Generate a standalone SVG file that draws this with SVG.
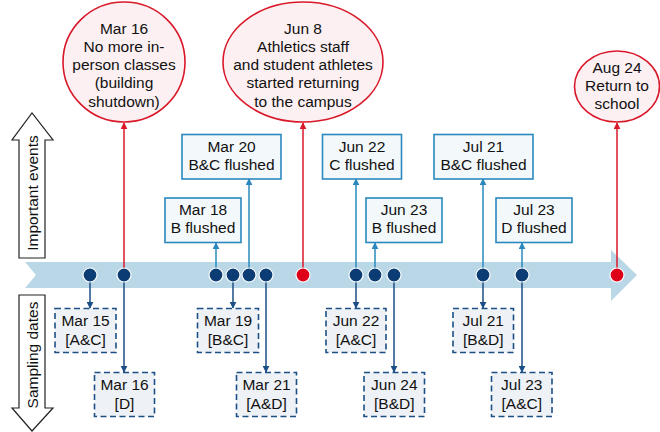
<svg xmlns="http://www.w3.org/2000/svg" width="660" height="432" viewBox="0 0 660 432">
<defs>
<style>
text{font-family:"Liberation Sans",Arial,sans-serif;font-size:15.5px;fill:#111;text-anchor:middle}
.ev{fill:#fcf0f2;stroke:#d9182a;stroke-width:1.6}
.fl{fill:#f3f8fb;stroke:#2a88be;stroke-width:1.6}
.sm{fill:#eef2f6;stroke:#1c4f86;stroke-width:1.6;stroke-dasharray:6 3.5}
.red{stroke:#d9182a;stroke-width:1.5;fill:none}
.up{stroke:#2a88be;stroke-width:1.5;fill:none}
.dn{stroke:#1c4f86;stroke-width:1.5;fill:none}
.dot{fill:#0b3d74;stroke:#fff;stroke-width:1.2}
.rdot{fill:#dd0018;stroke:#fff;stroke-width:1.2}
.side{fill:#fff;stroke:#222;stroke-width:1.2}
</style>
<marker id="mr" viewBox="0 0 10 10" refX="9" refY="5" markerWidth="7" markerHeight="7" markerUnits="userSpaceOnUse" orient="auto"><path d="M0,0L10,5L0,10z" fill="#d9182a"/></marker>
<marker id="mu" viewBox="0 0 10 10" refX="9" refY="5" markerWidth="7" markerHeight="7" markerUnits="userSpaceOnUse" orient="auto"><path d="M0,0L10,5L0,10z" fill="#2a88be"/></marker>
<marker id="md" viewBox="0 0 10 10" refX="9" refY="5" markerWidth="7" markerHeight="7" markerUnits="userSpaceOnUse" orient="auto"><path d="M0,0L10,5L0,10z" fill="#1c4f86"/></marker>
</defs>
<rect width="660" height="432" fill="#fff"/>

<g id="timeline">
<path d="M25,262 L611,262 L611,250 L637,275 L611,301 L611,288 L25,288 L36,275 Z" fill="#bad7e7"/>
</g>

<g id="axis-important">
<path class="side" d="M19,258 L19,140 L12,140 L32,113 L53,140 L45,140 L45,258 Z"/>
<text transform="translate(37.5,193) rotate(-90)">Important events</text>
</g>
<g id="axis-sampling">
<path class="side" d="M19,295 L45,295 L45,408 L53,408 L32,431 L12,408 L19,408 Z"/>
<text transform="translate(37.5,355) rotate(-90)">Sampling dates</text>
</g>

<g id="connectors">
<line class="red" x1="124" y1="275" x2="124" y2="123" marker-end="url(#mr)"/>
<line class="red" x1="303" y1="275" x2="303" y2="123" marker-end="url(#mr)"/>
<line class="red" x1="617" y1="275" x2="617" y2="123" marker-end="url(#mr)"/>
<line class="up" x1="216" y1="275" x2="216" y2="243" marker-end="url(#mu)"/>
<line class="up" x1="249" y1="275" x2="249" y2="179" marker-end="url(#mu)"/>
<line class="up" x1="356" y1="275" x2="356" y2="179" marker-end="url(#mu)"/>
<line class="up" x1="375" y1="275" x2="375" y2="243" marker-end="url(#mu)"/>
<line class="up" x1="483" y1="275" x2="483" y2="179" marker-end="url(#mu)"/>
<line class="up" x1="522" y1="275" x2="522" y2="243" marker-end="url(#mu)"/>
<line class="dn" x1="90" y1="275" x2="90" y2="308" marker-end="url(#md)"/>
<line class="dn" x1="124" y1="275" x2="124" y2="372" marker-end="url(#md)"/>
<line class="dn" x1="233" y1="275" x2="233" y2="308" marker-end="url(#md)"/>
<line class="dn" x1="266" y1="275" x2="266" y2="372" marker-end="url(#md)"/>
<line class="dn" x1="356" y1="275" x2="356" y2="308" marker-end="url(#md)"/>
<line class="dn" x1="394" y1="275" x2="394" y2="372" marker-end="url(#md)"/>
<line class="dn" x1="483" y1="275" x2="483" y2="308" marker-end="url(#md)"/>
<line class="dn" x1="522" y1="275" x2="522" y2="372" marker-end="url(#md)"/>
</g>

<g id="dots">
<circle class="dot" cx="90" cy="275" r="7"/>
<circle class="dot" cx="124" cy="275" r="7"/>
<circle class="dot" cx="216" cy="275" r="7"/>
<circle class="dot" cx="233" cy="275" r="7"/>
<circle class="dot" cx="249" cy="275" r="7"/>
<circle class="dot" cx="266" cy="275" r="7"/>
<circle class="rdot" cx="303" cy="275" r="7"/>
<circle class="dot" cx="356" cy="275" r="7"/>
<circle class="dot" cx="375" cy="275" r="7"/>
<circle class="dot" cx="394" cy="275" r="7"/>
<circle class="dot" cx="483" cy="275" r="7"/>
<circle class="dot" cx="522" cy="275" r="7"/>
<circle class="rdot" cx="617" cy="275" r="7"/>
</g>

<g id="ev-mar16">
<ellipse class="ev" cx="124" cy="62" rx="61" ry="60"/>
<text x="124" y="33.5">Mar 16</text>
<text x="124" y="51.8">No more in-</text>
<text x="124" y="70.1">person classes</text>
<text x="124" y="88.4">(building</text>
<text x="124" y="106.7">shutdown)</text>
</g>
<g id="ev-jun8">
<ellipse class="ev" cx="303" cy="62" rx="80" ry="60"/>
<text x="303" y="33.5">Jun 8</text>
<text x="303" y="51.8">Athletics staff</text>
<text x="303" y="70.1">and student athletes</text>
<text x="303" y="88.4">started returning</text>
<text x="303" y="106.7">to the campus</text>
</g>
<g id="ev-aug24">
<ellipse class="ev" cx="617" cy="86.5" rx="42.5" ry="35.5"/>
<text x="617" y="72.8">Aug 24</text>
<text x="617" y="91.1">Return to</text>
<text x="617" y="109.4">school</text>
</g>

<g id="fl-mar18">
<rect class="fl" x="165" y="198" width="76" height="44.5"/>
<text x="203" y="215">Mar 18</text>
<text x="203" y="233.3">B flushed</text>
</g>
<g id="fl-mar20">
<rect class="fl" x="182" y="134.5" width="99" height="44.5"/>
<text x="231.5" y="151.5">Mar 20</text>
<text x="231.5" y="169.8">B&amp;C flushed</text>
</g>
<g id="fl-jun22">
<rect class="fl" x="322.5" y="134.5" width="79" height="44.5"/>
<text x="362" y="151.5">Jun 22</text>
<text x="362" y="169.8">C flushed</text>
</g>
<g id="fl-jun23">
<rect class="fl" x="366" y="198" width="76" height="44.5"/>
<text x="404" y="215">Jun 23</text>
<text x="404" y="233.3">B flushed</text>
</g>
<g id="fl-jul21">
<rect class="fl" x="434" y="134.5" width="99" height="44.5"/>
<text x="483.5" y="151.5">Jul 21</text>
<text x="483.5" y="169.8">B&amp;C flushed</text>
</g>
<g id="fl-jul23">
<rect class="fl" x="496" y="198" width="76" height="44.5"/>
<text x="534" y="215">Jul 23</text>
<text x="534" y="233.3">D flushed</text>
</g>

<g id="sm-mar15">
<rect class="sm" x="55" y="308.5" width="61" height="44"/>
<text x="85.5" y="325.5">Mar 15</text>
<text x="85.5" y="344.5">[A&amp;C]</text>
</g>
<g id="sm-mar16">
<rect class="sm" x="94.5" y="372.5" width="60" height="44"/>
<text x="124.5" y="389.5">Mar 16</text>
<text x="124.5" y="408.5">[D]</text>
</g>
<g id="sm-mar19">
<rect class="sm" x="197.5" y="308.5" width="61" height="44"/>
<text x="228" y="325.5">Mar 19</text>
<text x="228" y="344.5">[B&amp;C]</text>
</g>
<g id="sm-mar21">
<rect class="sm" x="236.5" y="372.5" width="60" height="44"/>
<text x="266.5" y="389.5">Mar 21</text>
<text x="266.5" y="408.5">[A&amp;D]</text>
</g>
<g id="sm-jun22">
<rect class="sm" x="326" y="308.5" width="60" height="44"/>
<text x="356" y="325.5">Jun 22</text>
<text x="356" y="344.5">[A&amp;C]</text>
</g>
<g id="sm-jun24">
<rect class="sm" x="364" y="372.5" width="60.5" height="44"/>
<text x="394.3" y="389.5">Jun 24</text>
<text x="394.3" y="408.5">[B&amp;D]</text>
</g>
<g id="sm-jul21">
<rect class="sm" x="453" y="308.5" width="60.5" height="44"/>
<text x="483.3" y="325.5">Jul 21</text>
<text x="483.3" y="344.5">[B&amp;D]</text>
</g>
<g id="sm-jul23">
<rect class="sm" x="491.5" y="372.5" width="60.5" height="44"/>
<text x="521.8" y="389.5">Jul 23</text>
<text x="521.8" y="408.5">[A&amp;C]</text>
</g>
</svg>
